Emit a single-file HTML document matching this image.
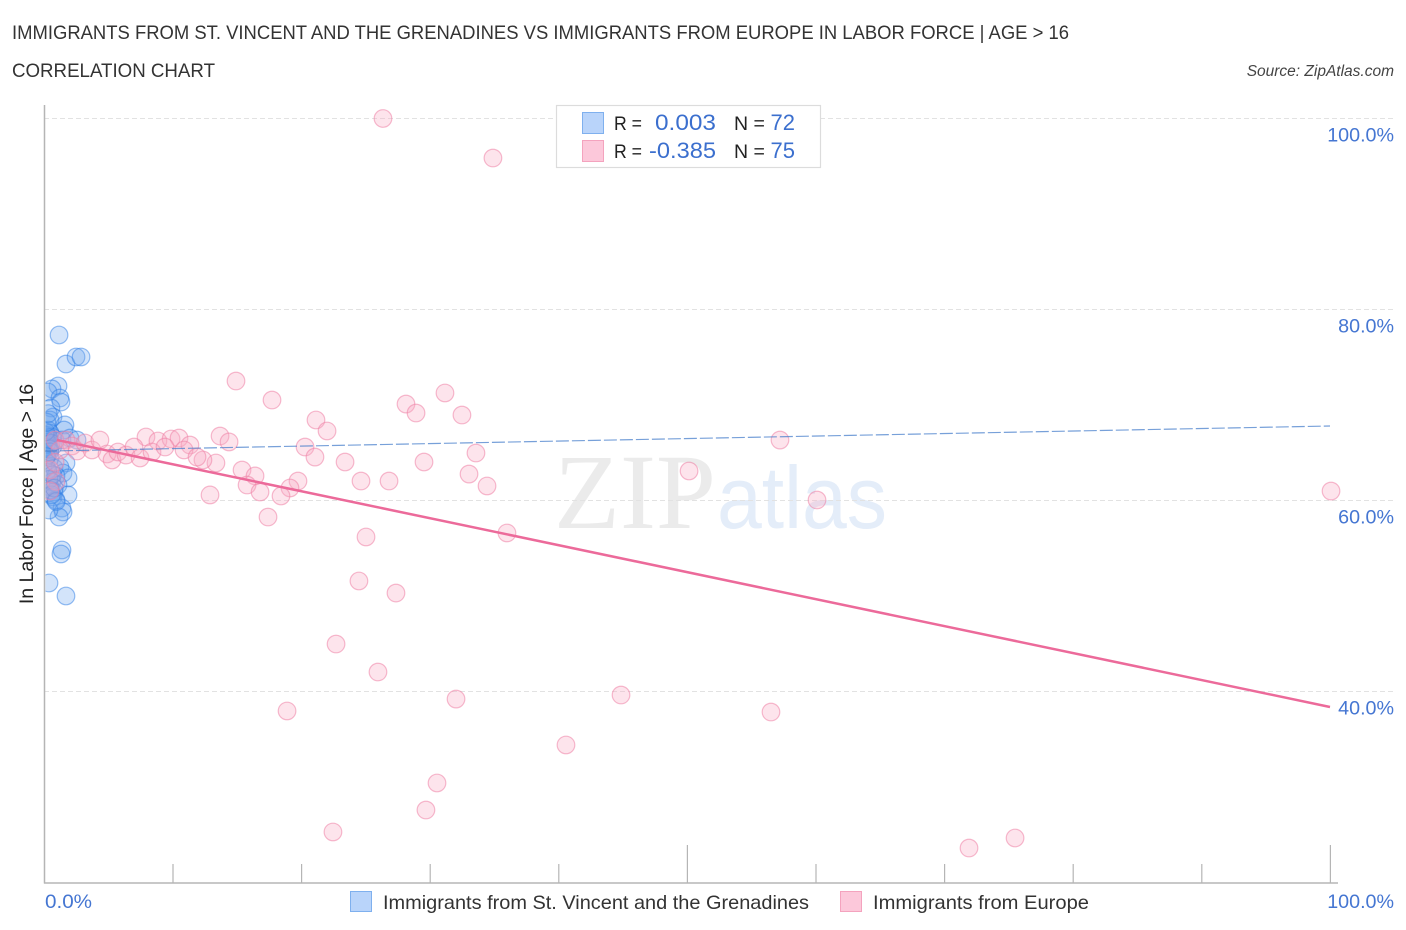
<!DOCTYPE html>
<html lang="en">
<head>
<meta charset="utf-8">
<title>Correlation Chart</title>
<style>
html,body{margin:0;padding:0;background:#fff;}
svg{display:block;font-family:"Liberation Sans",sans-serif;}
</style>
</head>
<body>
<svg id="chart" xmlns="http://www.w3.org/2000/svg" width="1406" height="930" viewBox="0 0 1406 930">
  <defs>
    <clipPath id="plot-clip"><rect x="45.5" y="100" width="1361" height="783"/></clipPath>
  </defs>
  <rect width="1406" height="930" fill="#fff"/>
  <text x="12" y="39" font-size="19.5" fill="#333" textLength="1057" lengthAdjust="spacingAndGlyphs">IMMIGRANTS FROM ST. VINCENT AND THE GRENADINES VS IMMIGRANTS FROM EUROPE IN LABOR FORCE | AGE &gt; 16</text>
  <text x="12" y="77" font-size="19" fill="#333" textLength="203" lengthAdjust="spacingAndGlyphs">CORRELATION CHART</text>
  <text x="1394" y="76" font-size="15.5" font-style="italic" fill="#444" text-anchor="end">Source: ZipAtlas.com</text>

  <g>
    <text x="554" y="528" font-family="'Liberation Serif',serif" font-size="107" fill="#ebebeb" textLength="162" lengthAdjust="spacingAndGlyphs">ZIP</text>
    <text x="717" y="528" font-size="88" fill="#e4edf9" textLength="170" lengthAdjust="spacingAndGlyphs">atlas</text>
  </g>

  <g id="grid"></g>
  <g id="points-blue" clip-path="url(#plot-clip)"></g>
  <g id="points-pink" clip-path="url(#plot-clip)"></g>
  <g id="trends"></g>
  <g id="axes"></g>
  <g id="labels"></g>

  <text transform="translate(33,494) rotate(-90)" font-size="19.5" fill="#222" text-anchor="middle">In Labor Force | Age &gt; 16</text>

  <g>
    <rect x="556.5" y="105.5" width="264" height="62" fill="#fff" stroke="#dcdcdc" stroke-width="1.2"/>
    <rect x="582.5" y="112.5" width="21" height="21" fill="#b9d4fa" stroke="#7fb0ee"/>
    <rect x="582.5" y="140.5" width="21" height="21" fill="#fcc8da" stroke="#f4a3be"/>
    <text x="614" y="130" font-size="19.5" fill="#222" textLength="28" lengthAdjust="spacingAndGlyphs">R =</text>
    <text x="655" y="130" font-size="22" fill="#3b6fce" textLength="61" lengthAdjust="spacingAndGlyphs">0.003</text>
    <text x="734" y="130" font-size="19.5" fill="#222">N =</text>
    <text x="795" y="130" font-size="22" fill="#3b6fce" text-anchor="end">72</text>
    <text x="614" y="158" font-size="19.5" fill="#222" textLength="28" lengthAdjust="spacingAndGlyphs">R =</text>
    <text x="649" y="158" font-size="22" fill="#3b6fce" textLength="67" lengthAdjust="spacingAndGlyphs">-0.385</text>
    <text x="734" y="158" font-size="19.5" fill="#222">N =</text>
    <text x="795" y="158" font-size="22" fill="#3b6fce" text-anchor="end">75</text>
  </g>

  <g>
    <rect x="350.5" y="891.5" width="21" height="20" fill="#b9d4fa" stroke="#7fb0ee"/>
    <text x="383" y="909" font-size="19.5" fill="#333" textLength="426" lengthAdjust="spacingAndGlyphs">Immigrants from St. Vincent and the Grenadines</text>
    <rect x="840.5" y="891.5" width="21" height="20" fill="#fcc8da" stroke="#f4a3be"/>
    <text x="873" y="909" font-size="19.5" fill="#333" textLength="216" lengthAdjust="spacingAndGlyphs">Immigrants from Europe</text>
  </g>
</svg>

<script>
var yTickValues = [100, 80, 60, 40];
var yTickLabels = ["100.0%", "80.0%", "60.0%", "40.0%"];
var xTickValues = [0, 10, 20, 30, 40, 50, 60, 70, 80, 90, 100];
var xMajorTicks = [50, 100];
var xEndLabels = ["0.0%", "100.0%"];

var blueX = [1.17,1.71,2.49,2.88,1.09,0.62,0.31,1.24,1.32,0.54,0.70,0.47,1.63,1.56,0.31,0.23,0.47,0.16,0.62,0.86,1.40,2.02,2.57,0.31,0.16,0.47,0.70,0.23,0.16,0.47,1.71,0.78,1.24,0.31,1.48,1.87,0.93,0.62,1.09,0.47,0.78,1.87,0.70,0.93,1.40,1.48,1.17,0.39,1.40,1.32,0.39,1.71,0.10,0.15,0.20,0.25,0.30,0.35,0.40,0.45,0.55,0.12,0.18,0.28,0.38,0.50,0.60,0.22,0.33,0.66,0.80,0.95];
var blueY = [77.33,74.29,75.03,75.03,71.99,71.68,71.36,70.73,70.31,69.69,68.74,68.43,67.91,67.38,67.38,66.86,67.07,66.54,66.65,66.23,66.33,66.54,66.33,65.92,65.50,65.29,65.71,64.76,64.03,64.45,63.93,63.40,63.51,62.98,62.88,62.36,62.57,61.94,61.62,61.41,60.89,60.58,60.37,60.05,59.21,58.80,58.27,59.00,54.82,54.40,51.36,50.00,66.80,66.30,65.90,66.10,65.60,66.60,65.40,65.10,66.00,67.20,64.60,63.20,62.20,61.10,60.60,68.20,69.10,62.70,61.30,59.90];

var pinkX = [26.36,34.91,14.93,17.73,28.15,31.18,28.93,32.50,21.15,22.01,57.23,7.93,8.86,9.88,10.50,11.35,13.69,14.39,20.30,33.59,21.07,23.41,29.55,13.37,12.36,15.40,16.41,33.05,24.65,26.83,34.45,19.75,19.13,15.79,16.80,18.43,12.91,50.16,60.11,100.08,17.42,36.00,25.04,24.49,27.37,22.71,25.97,32.04,44.87,18.90,56.53,40.59,30.56,29.70,22.47,71.93,75.51,0.86,1.71,2.18,1.24,2.57,3.19,3.73,4.35,4.90,5.29,5.75,6.38,7.00,7.47,8.40,9.41,10.89,11.90];
var pinkY = [100.00,95.86,72.51,70.52,70.10,71.26,69.16,68.95,68.43,67.28,66.33,66.65,66.23,66.44,66.54,65.81,66.75,66.13,65.60,64.97,64.55,64.03,64.03,63.93,64.24,63.19,62.57,62.77,62.04,62.04,61.52,62.04,61.31,61.62,60.89,60.47,60.58,63.09,60.05,60.99,58.27,56.60,56.18,51.57,50.31,44.97,42.04,39.21,39.63,37.96,37.85,34.40,30.42,27.59,25.29,23.61,24.66,66.33,66.33,65.71,65.29,65.18,66.02,65.29,66.33,64.87,64.24,65.08,64.76,65.60,64.45,65.08,65.60,65.29,64.55];
var pinkExtraX = [0.47,0.93,0.47,0.86];
var pinkExtraY = [63.20,62.00,61.00,64.00];

var blueTrendX = [0, 100];
var blueTrendY = [65.17, 67.80];
var pinkTrendX = [1, 100];
var pinkTrendY = [66.34, 38.38];

var SVGNS = "http://www.w3.org/2000/svg";
function xScale(v){ return 44 + v * 12.86; }
function yScale(v){ return 500.5 - (v - 60) * 9.55; }
function make(tag, attrs, parent){
  var el = document.createElementNS(SVGNS, tag);
  for (var k in attrs) el.setAttribute(k, attrs[k]);
  parent.appendChild(el);
  return el;
}

var grid = document.getElementById("grid");
var axes = document.getElementById("axes");
var labels = document.getElementById("labels");
var blueGroup = document.getElementById("points-blue");
var pinkGroup = document.getElementById("points-pink");
var trends = document.getElementById("trends");

yTickValues.forEach(function(v, i){
  var line = make("line", {x1:44, x2:1394, y1:yScale(v), y2:yScale(v), stroke:"#e2e2e2", "stroke-width":1, "stroke-dasharray":"5 3"}, grid);
  
  
  var t = make("text", {x:1394, y:yScale(v) + 23, "font-size":19.7, fill:"#4576d2", "text-anchor":"end"}, labels);
  t.textContent = yTickLabels[i];
  
  
});

var yAxis = make("line", {x1:44.5, x2:44.5, y1:105, y2:883.5, stroke:"#b5b5b5", "stroke-width":1.5}, axes);


var xAxis = make("line", {x1:44, x2:1338, y1:883, y2:883, stroke:"#b5b5b5", "stroke-width":1.5}, axes);



xTickValues.forEach(function(v){
  if (v === 0) return;
  var top = xMajorTicks.indexOf(v) >= 0 ? 845 : 864;
  var tick = make("line", {x1:xScale(v) + 0.4, x2:xScale(v) + 0.4, y1:top, y2:883, stroke:"#b5b5b5", "stroke-width":1.2}, axes);
  
  
});

var x0 = make("text", {x:xScale(0) + 1, y:908, "font-size":19.7, fill:"#4576d2", textLength:47, lengthAdjust:"spacingAndGlyphs"}, labels);
x0.textContent = xEndLabels[0];


var x1 = make("text", {x:1394, y:908, "font-size":19.7, fill:"#4576d2", "text-anchor":"end"}, labels);
x1.textContent = xEndLabels[1];



blueX.forEach(function(v, i){
  var c = make("circle", {cx:xScale(v), cy:yScale(blueY[i]), r:8.8, fill:"rgba(110,165,240,0.3)", stroke:"rgba(45,125,230,0.5)", "stroke-width":1.2}, blueGroup);
  
  
});

pinkX.concat(pinkExtraX).forEach(function(v, i){
  var c = make("circle", {cx:xScale(v), cy:yScale(pinkY.concat(pinkExtraY)[i]), r:8.8, fill:"rgba(248,170,195,0.32)", stroke:"rgba(238,130,165,0.55)", "stroke-width":1.2}, pinkGroup);
  
  
});

var blueLine = make("line", {x1:xScale(blueTrendX[0]), y1:yScale(blueTrendY[0]), x2:xScale(blueTrendX[1]), y2:yScale(blueTrendY[1]), stroke:"#4a80cc", "stroke-opacity":0.75, "stroke-width":1.2, "stroke-dasharray":"13 3"}, trends);


var pinkLine = make("line", {x1:xScale(pinkTrendX[0]), y1:yScale(pinkTrendY[0]), x2:xScale(pinkTrendX[1]), y2:yScale(pinkTrendY[1]), stroke:"#ec6a9a", "stroke-width":2.5}, trends);


</script>
</body>
</html>
